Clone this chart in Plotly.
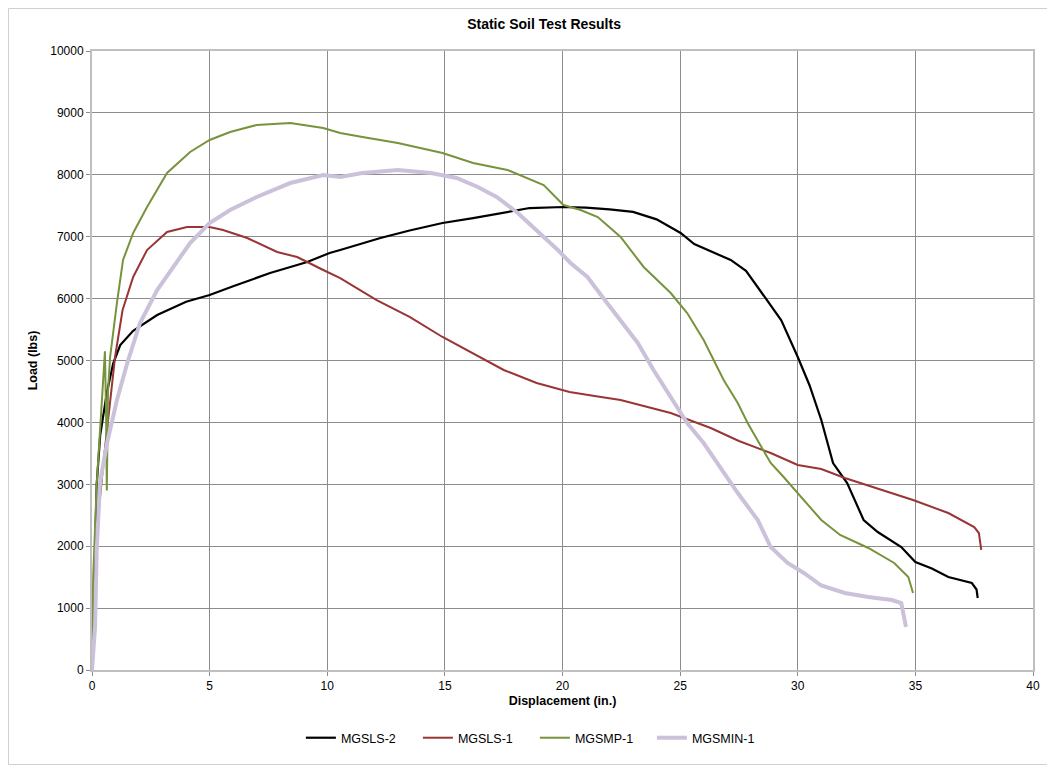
import plotly.graph_objects as go

# MGSLS-2 (black)
mgsls2_x = [0, 0.1, 0.2, 0.35, 0.64, 0.9, 1.2, 1.75, 2.77, 4.0, 5.0, 6.0, 7.57, 9.15, 10.1, 10.55,
            12.26, 13.5, 14.9, 16.2, 17.66, 18.6, 20.04, 21.0, 22.0, 23.0, 24.0, 25.02, 25.6, 26.2,
            27.15, 27.8, 28.55, 29.3, 30.0, 30.5, 31.0, 31.5, 32.1, 32.8, 33.4, 34.4, 35.0, 35.7,
            36.4, 37.0, 37.4, 37.6, 37.65]
mgsls2_y = [0, 1500, 3000, 3800, 4500, 4950, 5250, 5480, 5735, 5950, 6058, 6200, 6413, 6591, 6737, 6785,
            6979, 7100, 7221, 7300, 7399, 7463, 7480, 7470, 7440, 7400, 7280, 7060, 6880, 6780,
            6624, 6450, 6058, 5650, 5057, 4600, 4039, 3344, 3021, 2423, 2229, 1987, 1745, 1640,
            1502, 1450, 1405, 1300, 1163]

# MGSLS-1 (red)
mgsls1_x = [0, 0.1, 0.26, 0.5, 0.7, 0.98, 1.3, 1.75, 2.34, 3.19, 4.04, 5.0, 5.57, 6.6, 7.87, 8.72,
            9.83, 10.55, 12.1, 13.5, 14.9, 16.5, 17.5, 18.9, 20.3, 21.5, 22.47, 24.6, 26.3, 27.5,
            28.85, 30.0, 31.0, 32.0, 33.2, 34.9, 36.4, 37.5, 37.7, 37.8]
mgsls1_y = [0, 900, 2472, 3400, 4087, 5057, 5816, 6349, 6785, 7076, 7157, 7157, 7108, 6979, 6753, 6672,
            6462, 6330, 5977, 5703, 5380, 5057, 4847, 4636, 4491, 4420, 4362, 4152, 3910, 3700,
            3505, 3312, 3247, 3102, 2956, 2746, 2536, 2310, 2213, 1939]

# MGSMP-1 (green)
mgsmp1_x = [0, 0.05, 0.2, 0.4, 0.5, 0.55, 0.6, 0.63, 0.68, 0.77, 1.06, 1.32, 1.75, 2.34, 3.19, 4.17,
            5.0, 5.87, 7.0, 8.43, 9.83, 10.55, 11.5, 13.0, 14.9, 16.2, 17.66, 19.2, 20.04, 20.77,
            21.5, 22.47, 23.45, 24.6, 25.3, 26.0, 26.85, 27.45, 27.87, 28.85, 29.4, 30.13, 31.0,
            31.8, 33.0, 34.1, 34.7, 34.9]
mgsmp1_y = [0, 1500, 3000, 4300, 4750, 5150, 4100, 2900, 4500, 5057, 5929, 6624, 7060, 7480, 8029, 8368,
            8562, 8691, 8805, 8837, 8756, 8675, 8611, 8514, 8352, 8191, 8078, 7835, 7512, 7431,
            7318, 6995, 6511, 6090, 5767, 5331, 4685, 4313, 3990, 3344, 3118, 2795, 2423,
            2181, 1971, 1729, 1502, 1244]

# MGSMIN-1 (lavender)
mgsmin1_x = [0, 0.13, 0.2, 0.34, 0.64, 1.06, 1.5, 2.04, 2.77, 3.74, 4.17, 5.0, 5.87, 7.0, 8.43, 9.83,
             10.55, 11.5, 13.0, 14.4, 15.5, 16.4, 17.2, 18.1, 18.9, 19.8, 20.34, 21.06, 21.7, 22.47,
             23.2, 23.87, 24.6, 25.3, 26.0, 26.85, 27.45, 28.3, 28.85, 29.57, 30.26, 31.0, 32.0,
             33.0, 34.0, 34.4, 34.5, 34.6]
mgsmin1_y = [0, 695, 1939, 3021, 3667, 4362, 4960, 5606, 6139, 6672, 6898, 7221, 7431, 7641, 7867, 7997,
             7965, 8029, 8078, 8029, 7948, 7803, 7641, 7383, 7108, 6785, 6575, 6349, 6026, 5654,
             5283, 4847, 4410, 3990, 3667, 3183, 2859, 2423, 1987, 1729, 1567, 1365, 1244,
             1179, 1131, 1082, 856, 695]

x_ticks = [0, 5, 10, 15, 20, 25, 30, 35, 40]
y_ticks = [0, 1000, 2000, 3000, 4000, 5000, 6000, 7000, 8000, 9000, 10000]
y_labels = [str(v) for v in y_ticks]

series = [
    ("MGSLS-2", mgsls2_x, mgsls2_y, "#000000", 2.2),
    ("MGSLS-1", mgsls1_x, mgsls1_y, "#993535", 2),
    ("MGSMP-1", mgsmp1_x, mgsmp1_y, "#77933C", 2),
    ("MGSMIN-1", mgsmin1_x, mgsmin1_y, "#CCC1DA", 4),
]

fig = go.Figure()
for name, xs, ys, color, w in series:
    fig.add_trace(go.Scatter(x=xs, y=ys, name=name, mode="lines",
                             line=dict(color=color, width=w)))

# page body has an 8px margin, so the figure is shrunk and shifted to compensate
font = "Liberation Sans, Arial, sans-serif"
fig.update_layout(
    width=1047, height=757,
    margin=dict(l=84, r=22, t=43, b=95),
    paper_bgcolor="white", plot_bgcolor="white",
    font=dict(family=font, size=12, color="black"),
    title=dict(text="<b>Static Soil Test Results</b>", x=0.512, xanchor="center",
               y=0.979, yanchor="middle", font=dict(size=14)),
    showlegend=True,
    legend=dict(orientation="h", x=0.222, xanchor="left", y=-0.11, yanchor="middle",
                font=dict(size=12.5), itemwidth=30, traceorder="normal",
                entrywidth=72, entrywidthmode="pixels"),
)
fig.update_xaxes(
    range=[0, 40], tickvals=x_ticks, showgrid=True, gridcolor="#8C8C8C", gridwidth=1,
    showline=True, linecolor="#BFBFBF", linewidth=2, mirror=True,
    ticks="outside", ticklen=4, tickcolor="#8C8C8C", zeroline=False,
    tickfont=dict(size=12),
    title=dict(text="<b>Displacement (in.)</b>", font=dict(size=12.5), standoff=4),
)
fig.update_yaxes(
    range=[0, 10000], tickvals=y_ticks, ticktext=y_labels, showgrid=True,
    gridcolor="#8C8C8C", gridwidth=1,
    showline=True, linecolor="#BFBFBF", linewidth=2, mirror=True,
    ticks="outside", ticklen=4, tickcolor="#8C8C8C", zeroline=False,
    tickfont=dict(size=12),
    title=dict(text="<b>Load (lbs)</b>", font=dict(size=12.5), standoff=10),
)
# outer chart border
fig.add_shape(type="rect", xref="paper", yref="paper",
              x0=-83.5 / 941, x1=1046 / 941 - 84 / 941, y0=-94.5 / 619, y1=(619 + 42.5) / 619,
              line=dict(color="#D0D0D0", width=1))

fig.write_html("out.html")
